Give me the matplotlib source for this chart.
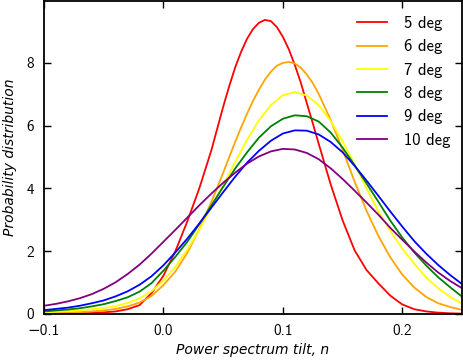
import matplotlib
matplotlib.use("Agg")
import matplotlib.pyplot as plt
import numpy as np

# tilt grid and curves
n_tilt = [-0.10, -0.09, -0.08, -0.07, -0.06, -0.05, -0.04, -0.03, -0.02, -0.01,
          0.00, 0.01, 0.02, 0.03, 0.04, 0.05, 0.06, 0.07, 0.08, 0.09,
          0.10, 0.11, 0.12, 0.13, 0.14, 0.15, 0.16, 0.17, 0.18, 0.19,
          0.20, 0.21, 0.22, 0.23, 0.24, 0.25]

# the two narrow curves are read more finely around their peaks
n_tilt_fine = [-0.10, -0.09, -0.08, -0.07, -0.06, -0.05, -0.04, -0.03, -0.02, -0.01,
               0.00, 0.01, 0.02, 0.03, 0.04, 0.045, 0.05, 0.055, 0.06, 0.065,
               0.07, 0.075, 0.08, 0.085, 0.09, 0.095, 0.10, 0.105, 0.11, 0.115,
               0.12, 0.125, 0.13, 0.14, 0.15, 0.16, 0.17, 0.18, 0.19,
               0.20, 0.21, 0.22, 0.23, 0.24, 0.25]

pdf_5deg = [0.00, 0.01, 0.01, 0.02, 0.03, 0.05, 0.08, 0.15, 0.28, 0.66,
            1.22, 2.00, 2.95, 4.00, 5.20, 5.90, 6.60, 7.25, 7.85, 8.35,
            8.77, 9.08, 9.28, 9.37, 9.33, 9.14, 8.83, 8.43, 7.93, 7.37,
            6.72, 6.08, 5.42, 4.13, 2.98, 2.03, 1.40, 0.97, 0.58,
            0.30, 0.15, 0.08, 0.04, 0.02, 0.01]
pdf_6deg = [0.03, 0.04, 0.05, 0.06, 0.08, 0.11, 0.16, 0.24, 0.36, 0.57,
            0.92, 1.35, 1.95, 2.70, 3.56, 4.02, 4.50, 4.99, 5.48, 5.94,
            6.38, 6.79, 7.15, 7.47, 7.72, 7.91, 8.00, 8.03, 7.98, 7.85,
            7.63, 7.36, 7.01, 6.18, 5.23, 4.22, 3.29, 2.48, 1.80,
            1.25, 0.84, 0.54, 0.34, 0.22, 0.13]
pdf_7deg = [0.05, 0.07, 0.09, 0.11, 0.15, 0.19, 0.25, 0.35, 0.49, 0.72,
            1.07, 1.50, 2.05, 2.68, 3.38, 4.10, 4.84, 5.55, 6.17, 6.66,
            6.97, 7.07, 6.96, 6.65, 6.15, 5.50, 4.77, 4.00, 3.26, 2.64,
            2.08, 1.60, 1.16, 0.82, 0.54, 0.33]
pdf_8deg = [0.08, 0.11, 0.14, 0.18, 0.24, 0.31, 0.41, 0.53, 0.71, 0.98,
            1.38, 1.82, 2.30, 2.86, 3.45, 4.05, 4.63, 5.15, 5.62, 5.98,
            6.22, 6.33, 6.30, 6.13, 5.78, 5.30, 4.74, 4.16, 3.57, 2.97,
            2.43, 1.96, 1.54, 1.17, 0.85, 0.55]
pdf_9deg = [0.12, 0.16, 0.20, 0.26, 0.34, 0.43, 0.56, 0.72, 0.93, 1.20,
            1.55, 1.96, 2.40, 2.88, 3.38, 3.88, 4.37, 4.82, 5.20, 5.52,
            5.75, 5.85, 5.84, 5.72, 5.48, 5.15, 4.72, 4.25, 3.76, 3.26,
            2.78, 2.32, 1.92, 1.56, 1.24, 0.95]
pdf_10deg = [0.26, 0.32, 0.40, 0.50, 0.63, 0.80, 1.01, 1.27, 1.57, 1.92,
             2.30, 2.68, 3.07, 3.46, 3.83, 4.18, 4.50, 4.79, 5.02, 5.18,
             5.26, 5.24, 5.13, 4.93, 4.64, 4.30, 3.93, 3.55, 3.16, 2.74,
             2.36, 1.99, 1.64, 1.32, 1.05, 0.82]

labels = ["5 deg", "6 deg", "7 deg", "8 deg", "9 deg", "10 deg"]
colors = ["red", "orange", "yellow", "green", "blue", "purple"]
curves = [(n_tilt_fine, pdf_5deg), (n_tilt_fine, pdf_6deg), (n_tilt, pdf_7deg),
          (n_tilt, pdf_8deg), (n_tilt, pdf_9deg), (n_tilt, pdf_10deg)]

plt.rcParams['font.family'] = ['cmss10', 'DejaVu Sans']
plt.rcParams['axes.unicode_minus'] = True
plt.rcParams['axes.formatter.use_mathtext'] = False

fig = plt.figure(figsize=(4.63, 3.6), dpi=100)
ax = fig.add_axes([0.095, 0.128, 0.903, 0.869])

for (x, y), c, lab in zip(curves, colors, labels):
    ax.plot(x, y, color=c, lw=1.3, label=lab)

ax.set_xlim(-0.1, 0.25)
ax.set_ylim(0, 9.97)
ax.set_xticks([-0.1, 0.0, 0.1, 0.2])
ax.set_xticklabels(["\u22120.1", "0.0", "0.1", "0.2"])
ax.set_yticks([0, 2, 4, 6, 8])
ax.tick_params(direction='in', top=True, right=True, length=5, width=1,
               labelsize=11, pad=7)
for sp in ax.spines.values():
    sp.set_linewidth(1.3)

ax.set_xlabel("Power spectrum tilt, n", fontsize=10, family='DejaVu Sans',
              style='italic', labelpad=4)
ax.set_ylabel("Probability distribution", fontsize=10, family='DejaVu Sans',
              style='italic', labelpad=7)

ax.legend(loc='upper right', frameon=False, fontsize=12, handlelength=1.8,
          handletextpad=1.0, labelspacing=0.5, bbox_to_anchor=(1.0075, 1.0))

fig.savefig("out.png", dpi=100)
